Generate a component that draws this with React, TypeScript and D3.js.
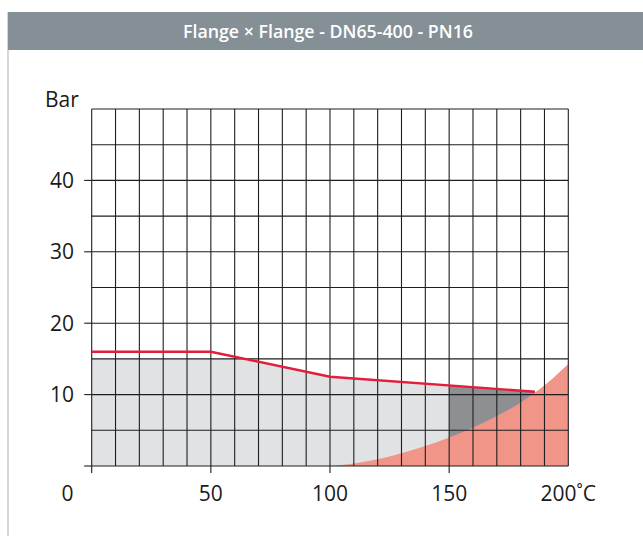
import React from "react";
import * as d3 from "d3";

const title = "Flange × Flange - DN65-400 - PN16";
const yLabel = "Bar";
const xTicks = [0, 50, 100, 150, 200];
const xTickLabels = ["0", "50", "100", "150", "200˚C"];
const yTicks = [10, 20, 30, 40];
const yTickMarks = [0, 10, 20, 30, 40];
const xGrid = d3.range(0, 201, 10);
const yGrid = d3.range(0, 51, 5);

// Max working pressure (red line)
const pressureTemp = [0, 50, 100, 186];
const pressureBar = [16, 16, 12.5, 10.4];
// Light gray area cap
const grayCap = 15;
const grayEnd = 150;
// Steam / limit curve (salmon)
const curveTemp = [100, 110, 120, 130, 140, 150, 160, 170, 180, 190, 200];
const curveBar = [0, 0.35, 0.95, 1.8, 2.8, 4.0, 5.4, 7.0, 8.9, 11.3, 14.3];

const W = 643;
const H = 536;

function redAt(t: number): number {
  for (let i = 0; i < pressureTemp.length - 1; i++) {
    const a = pressureTemp[i], b = pressureTemp[i + 1];
    if (t >= a && t <= b) {
      const k = (t - a) / (b - a);
      return pressureBar[i] + k * (pressureBar[i + 1] - pressureBar[i]);
    }
  }
  return pressureBar[pressureBar.length - 1];
}

export default function App() {
  const x = d3.scaleLinear().domain([0, 200]).range([91.7, 568.3]);
  const y = d3.scaleLinear().domain([0, 50]).range([466, 109]);

  const redPts: [number, number][] = pressureTemp.map((t, i) => [t, pressureBar[i]]);
  const line = d3.line<[number, number]>().x((d) => x(d[0])).y((d) => y(d[1]));

  const lgTemps = Array.from(new Set([0, 50, 60, 60.8, 70, 80, 90, 100, 110, 120, 130, 140, grayEnd])).sort((a, b) => a - b);
  const lgPts: [number, number][] = lgTemps.map((t) => [t, Math.min(grayCap, redAt(t))]);
  const area = d3
    .area<[number, number]>()
    .x((d) => x(d[0]))
    .y0(y(0))
    .y1((d) => y(d[1]));

  const dgTemps = [grayEnd, 160, 170, 180, pressureTemp[pressureTemp.length - 1]];
  const dgPts: [number, number][] = dgTemps.map((t) => [t, redAt(t)]);

  const curvePts: [number, number][] = curveTemp.map((t, i) => [t, curveBar[i]]);
  const curveArea = d3
    .area<[number, number]>()
    .x((d) => x(d[0]))
    .y0(y(0))
    .y1((d) => y(d[1]))
    .curve(d3.curveMonotoneX);

  const font = "'Open Sans', 'Noto Sans', sans-serif";
  const gridColor = "#1e1e1e";

  return (
    <svg
      width={W}
      height={H}
      viewBox={`0 0 ${W} ${H}`}
      style={{ position: "absolute", left: 0, top: 0, background: "#fff" }}
    >
      <rect x={0} y={0} width={W} height={H} fill="#fff" />
      <line x1={8} x2={8} y1={12} y2={H} stroke="#bfc4c8" strokeWidth={1.3} />
      <rect x={8} y={12} width={W - 8} height={38} fill="#848f96" />
      <text
        x={328}
        y={38}
        textAnchor="middle"
        fill="#fff"
        fontFamily={font}
        fontWeight={600}
        fontSize={18.5}
        textLength={290}
        lengthAdjust="spacingAndGlyphs"
      >
        {title}
      </text>

      <path d={area(lgPts) || ""} fill="#e1e2e4" />
      <path d={area(dgPts) || ""} fill="#8e8f93" />
      <path d={curveArea(curvePts) || ""} fill="#f09587" />

      {xGrid.map((t) => (
        <line key={"gx" + t} x1={x(t)} x2={x(t)} y1={y(50)} y2={y(0)} stroke={gridColor} strokeWidth={1.1} />
      ))}
      {yGrid.map((v) => (
        <line key={"gy" + v} x1={x(0)} x2={x(200)} y1={y(v)} y2={y(v)} stroke={gridColor} strokeWidth={1.1} />
      ))}

      {yTickMarks.map((v) => (
        <line key={"ty" + v} x1={x(0) - 7.5} x2={x(0)} y1={y(v)} y2={y(v)} stroke={gridColor} strokeWidth={1.1} />
      ))}
      {xTicks.slice(0, 4).map((t) => (
        <line key={"tx" + t} x1={x(t)} x2={x(t)} y1={y(0)} y2={y(0) + 7} stroke={gridColor} strokeWidth={1.1} />
      ))}

      <path d={line(redPts) || ""} fill="none" stroke="#e31e3c" strokeWidth={2.4} />

      {yTicks.map((v) => (
        <text
          key={"ly" + v}
          x={74}
          y={y(v)}
          dy="0.36em"
          textAnchor="end"
          fontFamily={font}
          fontSize={21}
          fill="#1a1a1a"
        >
          {v}
        </text>
      ))}
      <text x={45} y={107} fontFamily={font} fontSize={21} fill="#1a1a1a">
        {yLabel}
      </text>
      {xTicks.map((t, i) => (
        <text
          key={"lx" + t}
          x={i === 0 ? 67.5 : x(t)}
          y={501}
          textAnchor="middle"
          fontFamily={font}
          fontSize={21}
          fill="#1a1a1a"
        >
          {xTickLabels[i]}
        </text>
      ))}
    </svg>
  );
}
